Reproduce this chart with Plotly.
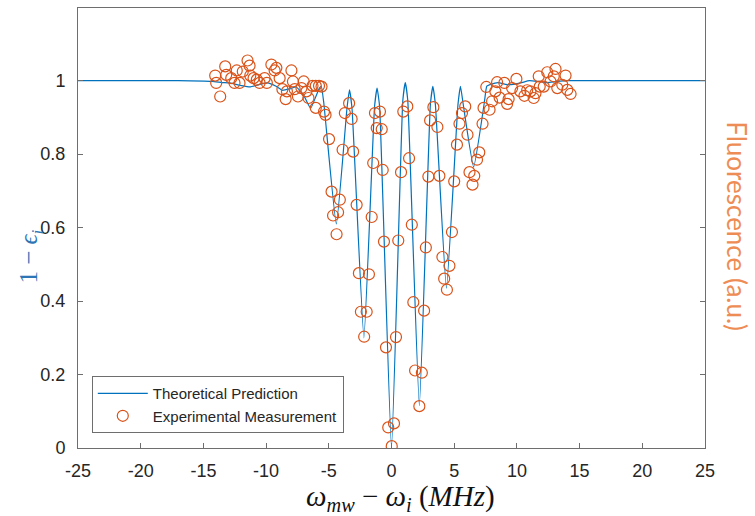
import plotly.graph_objects as go

# Theoretical transmission curve 1 - eps_i versus detuning (MHz)
theory_x = [-25, -17, -14.3, -13.5, -12.9, -12.0, -11.3, -10.5, -9.9, -9.2, -8.7, -8.1,
            -7.6, -7.0, -6.45, -6.0, -5.75, -5.6, -5.4, -4.4, -3.55, -3.35, -3.15, -2.2,
            -1.35, -1.15, -0.95, 0.0, 0.9, 1.1, 1.3, 2.22, 3.1, 3.3, 3.5, 4.38, 5.3, 5.5,
            5.7, 6.55, 7.4, 7.6, 7.9, 8.5, 9.1, 9.7, 10.4, 11.0, 11.7, 12.4, 13.2, 14.0,
            16.0, 25]
theory_y = [1.0, 1.0, 0.998, 0.995, 0.994, 0.987, 0.983, 0.99, 0.994, 0.985, 0.974, 0.978,
            0.983, 0.96, 0.925, 0.96, 0.98, 0.985, 0.94, 0.61, 0.925, 0.975, 0.925, 0.30,
            0.93, 0.98, 0.93, 0.0, 0.945, 0.995, 0.945, 0.115, 0.935, 0.985, 0.935, 0.435,
            0.935, 0.985, 0.94, 0.765, 0.94, 0.985, 0.99, 0.995, 0.99, 0.99, 0.995, 1.0,
            0.998, 0.995, 0.998, 1.0, 1.0, 1.0]

# Measured fluorescence (normalised)
meas_x = [-14.06, -13.98, -13.66, -13.26, -13.18, -12.78, -12.52, -12.34, -12.12, -11.86,
          -11.48, -11.32, -11.26, -11.0, -10.74, -10.52, -10.12, -9.94, -9.58, -9.32,
          -9.18, -8.92, -8.70, -8.44, -8.34, -7.98, -7.86, -7.72, -7.46, -7.18,
          -7.0, -6.78, -6.62, -6.30, -6.04, -5.78, -5.58, -6.04, -5.38, -5.26,
          -4.98, -4.78, -4.66, -4.26, -4.38, -4.12, -3.90, -3.72, -3.38, -3.18,
          -3.06, -2.78, -2.60, -1.80, -2.44, -1.98, -2.18, -1.58, -1.32, -1.18,
          -1.46, -0.92, -0.78, -0.70, -0.60, -0.44, -0.26, 0.02, 0.20, 0.36,
          0.54, 0.76, 0.94, 1.26, 1.40, 1.62, 1.74, 1.88, 2.42, 2.22,
          2.60, 2.74, 2.94, 3.08, 3.34, 3.66, 3.82, 4.06, 4.20, 4.42,
          4.62, 4.82, 5.00, 5.22, 5.42, 5.62, 5.88, 6.06, 6.22, 6.46,
          6.60, 6.82, 7.00, 7.26, 7.34, 7.56, 7.82, 8.02, 8.28, 8.42,
          8.62, 9.00, 9.22, 9.34, 9.62, 9.96, 10.28, 10.60, 10.82, 11.08,
          11.34, 11.48, 11.74, 11.82, 12.14, 12.42, 12.68, 12.94, 13.08, 13.22,
          13.62, 13.88, 14.02, 14.28]
meas_y = [1.014, 0.994, 0.957, 1.039, 1.016, 1.007, 0.994, 1.028, 0.994, 1.025,
          1.055, 1.041, 1.014, 1.007, 1.003, 0.994, 1.007, 0.994, 1.044, 1.028,
          1.035, 1.007, 0.977, 0.950, 0.971, 1.028, 0.998, 0.977, 0.957, 0.980,
          0.998, 0.971, 0.953, 0.986, 0.986, 0.986, 0.984, 0.926, 0.916, 0.907,
          0.841, 0.698, 0.633, 0.642, 0.582, 0.676, 0.812, 0.912, 0.939, 0.896,
          0.807, 0.662, 0.476, 0.473, 0.371, 0.371, 0.303, 0.629, 0.912, 0.871,
          0.776, 0.916, 0.868, 0.757, 0.562, 0.274, 0.056, 0.005, 0.067, 0.302,
          0.565, 0.751, 0.916, 0.930, 0.789, 0.608, 0.397, 0.211, 0.205, 0.114,
          0.374, 0.546, 0.739, 0.892, 0.928, 0.874, 0.741, 0.520, 0.461, 0.431,
          0.496, 0.588, 0.726, 0.826, 0.883, 0.912, 0.930, 0.853, 0.751, 0.717,
          0.741, 0.785, 0.805, 0.883, 0.926, 0.983, 0.921, 0.944, 0.971, 0.996,
          0.954, 0.994, 0.937, 0.950, 0.980, 1.005, 0.971, 0.959, 0.974, 0.971,
          0.953, 0.966, 1.012, 0.984, 0.984, 1.023, 0.998, 1.012, 1.032, 0.980,
          0.989, 1.014, 0.975, 0.964]

x_ticks = [-25, -20, -15, -10, -5, 0, 5, 10, 15, 20, 25]
x_tick_text = ["-25", "-20", "-15", "-10", "-5", "0", "5", "10", "15", "20", "25"]
y_ticks = [0, 0.2, 0.4, 0.6, 0.8, 1]
y_tick_text = ["0", "0.2", "0.4", "0.6", "0.8", "1"]

BLUE = "#0072BD"
ORANGE = "#D95319"
AXIS = "#6e6e6e"
TICKFONT = dict(family="Liberation Sans, Arial, sans-serif", size=18, color="#262626")

fig = go.Figure()
fig.add_trace(go.Scatter(
    x=theory_x, y=theory_y, mode="lines", name="Theoretical Prediction",
    line=dict(color=BLUE, width=1.2, shape="spline", smoothing=0.4),
))
fig.add_trace(go.Scatter(
    x=meas_x, y=meas_y, mode="markers", name="Experimental Measurement",
    marker=dict(symbol="circle-open", size=11, color=ORANGE, line=dict(width=1.2)),
))

fig.update_layout(
    width=755, height=516,
    margin=dict(l=78, r=50, t=8, b=68),
    paper_bgcolor="white", plot_bgcolor="white",
    showlegend=True,
    legend=dict(
        x=0.022, y=0.034, xanchor="left", yanchor="bottom",
        bordercolor="#6e6e6e", borderwidth=1, bgcolor="white",
        font=dict(family="Liberation Sans, Arial, sans-serif", size=15, color="#262626"),
        tracegroupgap=0, itemwidth=50,
    ),
    xaxis=dict(
        range=[-25, 25], tickvals=x_ticks, ticktext=x_tick_text, ticks="inside",
        ticklen=5, tickcolor=AXIS, showline=True, linecolor=AXIS, linewidth=1,
        mirror=True, showgrid=False, zeroline=False, tickfont=TICKFONT,
        ticklabelstandoff=6,
    ),
    yaxis=dict(
        range=[0, 1.198], tickvals=y_ticks, ticktext=y_tick_text, ticks="inside",
        ticklen=5, tickcolor=AXIS, showline=True, linecolor=AXIS, linewidth=1,
        mirror="ticks", showgrid=False, zeroline=False, tickfont=TICKFONT,
        ticklabelstandoff=8,
    ),
    annotations=[
        dict(text="<i>ω</i><sub><i>mw</i></sub> − <i>ω</i><sub><i>i</i></sub> (<i>MHz</i>)",
             xref="paper", yref="paper", x=0.514, y=-0.113, xanchor="center", yanchor="middle",
             showarrow=False,
             font=dict(family="Liberation Serif, DejaVu Serif, serif", size=29, color="#111111")),
        dict(text="1 − <i>ϵ</i><sub><i>i</i></sub>",
             xref="paper", yref="paper", x=-0.075, y=0.435, xanchor="center", yanchor="middle",
             textangle=-90, showarrow=False,
             font=dict(family="Liberation Serif, DejaVu Serif, serif", size=25, color="#2E75B6")),
        dict(text="Fluorescence (a.u.)",
             xref="paper", yref="paper", x=1.052, y=0.505, xanchor="center", yanchor="middle",
             textangle=90, showarrow=False,
             font=dict(family="Lato, Open Sans, sans-serif", size=26, color="#EE8C55")),
    ],
)

fig.write_html("out.html")
